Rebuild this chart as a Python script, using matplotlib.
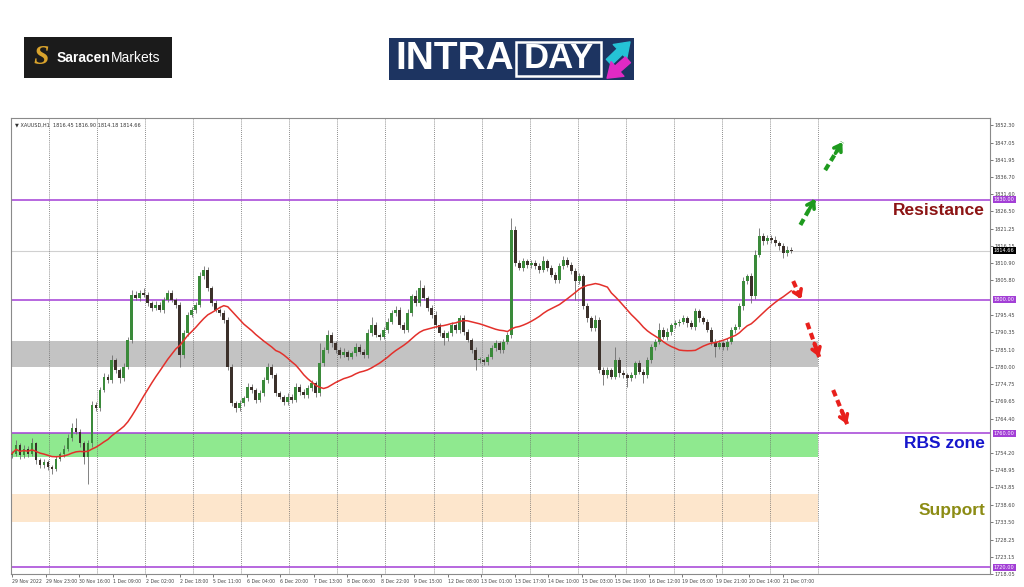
import numpy as np
import pandas as pd
import matplotlib
matplotlib.use('Agg')
import matplotlib.pyplot as plt
from matplotlib.patches import Rectangle, FancyArrowPatch

# XAUUSD H1, 29 Nov - 21 Dec 2022 (one candle here = two hourly bars)
first_open = 1753.5
closes = [
    1754.0, 1756.5, 1753.5, 1755.5, 1754.0, 1757.0, 1752.0, 1750.5, 1751.5, 1750.0,
    1749.5, 1752.5, 1754.0, 1755.5, 1758.5, 1761.5, 1760.5, 1757.0, 1753.0, 1757.0,
    1768.5, 1767.5, 1773.0, 1777.0, 1776.0, 1782.0, 1779.0, 1776.5, 1780.0, 1788.0,
    1801.5, 1800.5, 1802.0, 1801.5, 1799.0, 1797.5, 1798.5, 1797.0, 1800.0, 1802.0,
    1800.0, 1798.5, 1783.5, 1790.0, 1795.5, 1797.0, 1798.5, 1807.0, 1809.0, 1803.5,
    1799.0, 1797.0, 1796.0, 1794.0, 1780.0, 1769.0, 1767.5, 1769.0, 1770.5, 1774.0,
    1773.0, 1770.0, 1772.0, 1776.0, 1780.0, 1777.5, 1772.0, 1771.0, 1769.5, 1771.0,
    1770.0, 1774.0, 1772.5, 1771.5, 1773.5, 1775.0, 1772.0, 1781.0, 1785.0, 1789.5,
    1787.0, 1785.0, 1783.5, 1784.5, 1783.0, 1784.0, 1786.0, 1784.5, 1783.5, 1790.0,
    1792.5, 1789.5, 1789.0, 1791.0, 1793.5, 1796.0, 1797.0, 1792.5, 1791.0, 1796.0,
    1801.0, 1799.0, 1803.5, 1800.5, 1797.5, 1795.5, 1792.5, 1790.0, 1788.5, 1790.0,
    1792.5, 1791.0, 1794.5, 1790.5, 1788.0, 1785.0, 1782.0, 1782.0, 1781.5, 1783.0,
    1785.5, 1787.0, 1785.0, 1787.5, 1789.5, 1821.0, 1811.0, 1809.5, 1811.5, 1810.5,
    1811.0, 1810.0, 1809.0, 1811.5, 1809.5, 1807.5, 1806.0, 1810.0, 1812.0, 1810.5,
    1808.5, 1805.5, 1807.0, 1798.0, 1794.5, 1791.5, 1794.0, 1779.0, 1777.5, 1779.0,
    1777.0, 1782.0, 1778.0, 1777.5, 1776.5, 1777.5, 1781.0, 1778.5, 1777.5, 1782.0,
    1786.0, 1787.5, 1791.0, 1789.0, 1790.5, 1792.5, 1793.0, 1793.5, 1794.5, 1793.0,
    1792.0, 1796.5, 1794.5, 1793.5, 1791.0, 1787.5, 1786.0, 1787.0, 1786.0, 1787.5,
    1791.0, 1792.0, 1798.0, 1805.5, 1807.0, 1801.0, 1813.5, 1819.0, 1817.5, 1818.5,
    1818.0, 1817.0, 1816.0, 1814.0, 1815.0, 1814.66]
wick_up = [
    0.8, 1.5, 0.6, 1.0, 0.7, 1.5, 0.5, 0.8, 1.0, 0.6,
    0.7, 0.9, 0.6, 1.0, 1.2, 1.5, 3.0, 0.8, 0.6, 0.9,
    1.2, 1.0, 0.8, 1.1, 0.9, 1.5, 0.7, 0.6, 1.0, 0.9,
    1.5, 1.0, 0.8, 1.5, 0.7, 0.6, 1.0, 0.8, 0.9, 1.0,
    0.8, 0.6, 0.9, 1.0, 0.8, 0.7, 0.9, 1.2, 1.0, 0.8,
    0.7, 0.9, 0.6, 0.8, 1.0, 0.9, 0.7, 1.0, 0.8, 1.2,
    0.9, 0.7, 1.0, 0.8, 1.0, 0.9, 0.7, 0.8, 0.6, 1.0,
    0.9, 1.1, 0.7, 0.8, 1.0, 0.9, 0.7, 6.0, 1.0, 1.5,
    0.8, 0.7, 0.9, 1.0, 0.6, 0.8, 1.0, 0.7, 0.9, 1.2,
    2.5, 0.8, 0.7, 0.9, 1.0, 0.8, 1.0, 0.7, 0.9, 1.1,
    0.8, 2.0, 2.5, 0.9, 0.7, 0.8, 1.0, 0.6, 0.9, 0.8,
    1.0, 0.7, 1.0, 0.9, 0.8, 0.6, 0.9, 1.0, 0.7, 0.8,
    1.0, 0.9, 0.7, 0.8, 1.0, 3.5, 1.2, 0.8, 1.0, 0.7,
    0.9, 0.8, 1.0, 1.5, 0.7, 0.8, 0.9, 1.0, 1.1, 0.8,
    0.7, 0.9, 1.0, 0.8, 0.9, 0.7, 1.5, 1.0, 0.8, 0.9,
    0.7, 4.0, 0.8, 0.9, 0.7, 1.0, 0.8, 0.9, 0.7, 1.0,
    0.8, 0.9, 2.0, 0.8, 1.0, 0.7, 0.9, 0.8, 1.0, 0.7,
    0.9, 1.0, 0.8, 0.7, 0.9, 1.0, 0.8, 0.9, 0.7, 1.0,
    0.8, 0.9, 1.0, 1.2, 0.8, 1.0, 1.5, 2.5, 1.0, 0.9,
    0.8, 1.0, 0.7, 0.9, 1.2, 0.8]
wick_dn = [
    0.8, 0.6, 1.0, 0.7, 0.9, 0.6, 1.0, 0.8, 0.7, 1.0,
    1.5, 0.8, 0.7, 0.9, 0.6, 0.8, 0.7, 0.9, 2.0, 8.0,
    1.0, 0.8, 0.9, 0.7, 1.0, 0.8, 0.9, 1.5, 0.7, 0.8,
    0.9, 0.7, 1.0, 0.8, 0.9, 1.0, 0.7, 0.8, 0.9, 0.6,
    0.8, 0.9, 3.5, 1.0, 0.8, 0.7, 0.9, 0.8, 0.7, 1.0,
    0.9, 0.8, 0.7, 0.9, 1.0, 0.8, 1.0, 0.7, 0.9, 0.8,
    1.0, 0.9, 0.7, 0.8, 0.9, 1.0, 0.8, 0.7, 1.0, 0.9,
    0.8, 0.7, 0.9, 1.0, 0.8, 0.9, 1.0, 0.8, 0.7, 0.9,
    1.0, 0.8, 0.9, 0.7, 1.0, 0.8, 0.9, 0.7, 1.0, 0.8,
    0.9, 0.7, 1.0, 0.8, 0.9, 0.7, 0.8, 1.0, 0.9, 0.7,
    0.8, 0.9, 1.0, 0.7, 0.8, 0.9, 1.0, 0.8, 2.0, 0.9,
    0.7, 1.0, 0.8, 0.9, 0.7, 1.0, 3.0, 0.8, 0.9, 1.0,
    0.7, 0.8, 0.9, 1.0, 0.8, 0.9, 1.0, 0.7, 0.8, 0.9,
    1.0, 0.8, 0.9, 0.7, 1.0, 0.8, 0.9, 1.0, 0.7, 0.8,
    0.9, 5.5, 0.8, 0.9, 1.0, 0.7, 0.8, 1.0, 3.0, 0.9,
    0.8, 0.7, 1.0, 0.9, 2.5, 0.8, 0.9, 0.7, 2.5, 0.8,
    0.9, 1.0, 0.8, 0.7, 0.9, 1.0, 0.8, 0.9, 0.7, 1.0,
    0.8, 0.9, 1.0, 0.8, 0.7, 0.9, 3.0, 0.8, 0.9, 1.0,
    0.8, 0.9, 0.7, 1.0, 0.8, 2.0, 0.9, 0.8, 1.0, 0.7,
    0.9, 0.8, 1.0, 1.5, 0.8, 0.7]
ma_period = 25   # 50 hourly bars

levels = [1830.0, 1800.0, 1760.0, 1720.0]
last_price = 1814.66
zone_gray = (1780.0, 1787.7)
zone_green = (1753.0, 1760.0)
zone_orange = (1733.5, 1742.0)

price_ticks = [1852.30, 1847.05, 1841.95, 1836.70, 1831.60, 1826.50, 1821.25, 1816.15,
               1810.90, 1805.80, 1795.45, 1790.35, 1785.10, 1780.00, 1774.75, 1769.65,
               1764.40, 1754.20, 1748.95, 1743.85, 1738.60, 1733.50, 1728.25, 1723.15, 1718.05]
time_labels = ['29 Nov 2022', '29 Nov 23:00', '30 Nov 16:00', '1 Dec 09:00', '2 Dec 02:00',
               '2 Dec 18:00', '5 Dec 11:00', '6 Dec 04:00', '6 Dec 20:00', '7 Dec 13:00',
               '8 Dec 06:00', '8 Dec 22:00', '9 Dec 15:00', '12 Dec 08:00', '13 Dec 01:00',
               '13 Dec 17:00', '14 Dec 10:00', '15 Dec 03:00', '15 Dec 19:00', '16 Dec 12:00',
               '19 Dec 05:00', '19 Dec 21:00', '20 Dec 14:00', '21 Dec 07:00']

# projected moves (start, end) in (candle, price)
arrows_up = [((197.3, 1822.4), (201.0, 1830.2)), ((203.5, 1838.8), (207.8, 1847.2))]
arrows_down = [((195.5, 1805.6), (197.5, 1800.2)), ((199.0, 1793.1), (202.0, 1782.9)),
               ((205.5, 1773.0), (209.0, 1762.8))]

W, H = 1024, 587
fig = plt.figure(figsize=(W / 100, H / 100), dpi=100)
fig.patch.set_facecolor('white')


def fx(px):
    return px / W


def fy(py):
    return 1 - py / H


ax = fig.add_axes([fx(11), fy(574), fx(990) - fx(11), fy(118) - fy(574)])
x0, x1 = -0.25, 244.75

# zones
zone_end = 201.75
ax.fill_between([x0, zone_end], *zone_gray, color='#c3c3c3', lw=0, zorder=1)
ax.fill_between([x0, zone_end], *zone_green, color='#8fe98f', lw=0, zorder=1)
ax.fill_between([x0, zone_end], *zone_orange, color='#fde6cc', lw=0, zorder=1)

# day separators
for k in range(17):
    ax.axvline(9.25 + 12.03 * k, color='#666666', lw=0.6, ls=(0, (1, 1.5)), zorder=1.6)

ax.axhline(last_price, color='#d0d0d0', lw=0.8, zorder=1.5)
for lv in levels:
    ax.axhline(lv, color='#a33fd6', lw=1.1, zorder=2)

# candles
closes = np.array(closes)
opens = np.r_[first_open, closes[:-1]]
highs = np.maximum(opens, closes) + np.array(wick_up)
lows = np.minimum(opens, closes) - np.array(wick_dn)
idx = np.arange(len(closes))
bull = closes >= opens
ax.vlines(idx, lows, highs, color='#6e6e6e', lw=0.6, zorder=3)
ax.bar(idx[bull], np.maximum(closes[bull] - opens[bull], 0.3), bottom=opens[bull],
       width=0.7, color='#3a8a3a', zorder=4)
ax.bar(idx[~bull], np.maximum(opens[~bull] - closes[~bull], 0.3), bottom=closes[~bull],
       width=0.7, color='#3b302a', zorder=4)

ma = pd.Series(closes).rolling(ma_period, min_periods=1).mean()
ax.plot(idx, ma, color='#e3302b', lw=1.1, zorder=5)

# arrows
for col, arrs in (('#1e9a1e', arrows_up), ('#e8201c', arrows_down)):
    for a, b in arrs:
        ax.plot([a[0], b[0]], [a[1], b[1]], color=col, lw=3, ls=(0, (1.6, 1.0)),
                solid_capstyle='butt', zorder=6)
        mid = (a[0] + (b[0] - a[0]) * 0.6, a[1] + (b[1] - a[1]) * 0.6)
        ax.annotate('', xy=b, xytext=mid, zorder=6,
                    arrowprops=dict(arrowstyle='->,head_length=0.45,head_width=0.3',
                                    color=col, lw=2.6, shrinkA=0, shrinkB=0))

# axes styling
for s in ax.spines.values():
    s.set_color('#8a8a8a')
    s.set_linewidth(0.8)
ax.yaxis.tick_right()
ax.set_yticks(price_ticks)
ax.set_yticklabels([f'{v:.2f}' for v in price_ticks])
tick_pos = [0] + [8.5 + 8.38 * k for k in range(len(time_labels) - 1)]
ax.set_xticks(tick_pos)
ax.set_xticklabels(time_labels, ha='left')
ax.tick_params(axis='both', labelsize=3.6, colors='#444444', length=2, width=0.5, pad=1.5)
ax.tick_params(axis='x', labelsize=3.3)
ax.set_xlim(x0, x1)
ax.set_ylim(1717.95, 1854.4)

for lv in levels:
    ax.text(1.004, lv, f'{lv:.2f}', transform=ax.get_yaxis_transform(), fontsize=3.6,
            color='white', va='center', ha='left', zorder=7,
            bbox=dict(boxstyle='square,pad=0.2', fc='#a33fd6', ec='none'))
ax.text(1.004, last_price, f'{last_price:.2f}', transform=ax.get_yaxis_transform(),
        fontsize=3.6, color='white', va='center', ha='left', zorder=7,
        bbox=dict(boxstyle='square,pad=0.2', fc='black', ec='none'))

ax.text(0.004, 0.991, '\u25bc XAUUSD,H1  1816.45 1816.90 1814.18 1814.66',
        transform=ax.transAxes, fontsize=3.6, color='#333333', va='top', ha='left')

# zone captions
lab = dict(ha='right', va='center', fontsize=12.5, fontweight='bold',
           family=['Liberation Sans', 'DejaVu Sans'])
fig.text(fx(985), fy(210), 'Resistance', color='#8c1414', **lab)
fig.text(fx(985), fy(444), 'RBS zone', color='#1616cc', **lab)
fig.text(fx(985), fy(510), 'Support', color='#8c8c14', **lab)

# Saracen Markets logo
fig.add_artist(Rectangle((fx(24), fy(78)), fx(172) - fx(24), fy(37) - fy(78),
                         transform=fig.transFigure, fc='#1b1b1b', ec='none'))
fig.text(fx(41), fy(58), 'S', color='#d9a32c', fontsize=20, fontweight='bold',
         fontstyle='italic', ha='center', va='center', family=['Liberation Serif', 'DejaVu Serif'])
fig.text(fx(57), fy(58), 'Saracen', color='white', fontsize=10, fontweight='bold',
         ha='left', va='center', family=['Liberation Sans', 'DejaVu Sans'])
fig.text(fx(111), fy(58), 'Markets', color='white', fontsize=10,
         ha='left', va='center', family=['Liberation Sans', 'DejaVu Sans'])

# INTRADAY logo
fig.add_artist(Rectangle((fx(389), fy(80)), fx(634) - fx(389), fy(38) - fy(80),
                         transform=fig.transFigure, fc='#1d3461', ec='none'))
fig.text(fx(395), fy(59), 'INTRA', color='white', fontsize=28, fontweight='bold',
         ha='left', va='center', family=['Liberation Sans', 'DejaVu Sans'])
fig.add_artist(Rectangle((fx(516), fy(76)), fx(601) - fx(516), fy(42) - fy(76),
                         transform=fig.transFigure, fc='none', ec='white', lw=1.8))
fig.text(fx(558.5), fy(59), 'DAY', color='white', fontsize=25, fontweight='bold',
         ha='center', va='center', family=['Liberation Sans', 'DejaVu Sans'])
fig.add_artist(FancyArrowPatch((fx(607), fy(64)), (fx(632), fy(40)), transform=fig.transFigure,
                               arrowstyle='simple,head_width=1.4,head_length=1.0,tail_width=0.55',
                               mutation_scale=10, color='#25c3d6'))
fig.add_artist(FancyArrowPatch((fx(630), fy(58)), (fx(605), fy(80)), transform=fig.transFigure,
                               arrowstyle='simple,head_width=1.4,head_length=1.0,tail_width=0.55',
                               mutation_scale=10, color='#e02ac4'))

fig.savefig('out.png', dpi=100)
